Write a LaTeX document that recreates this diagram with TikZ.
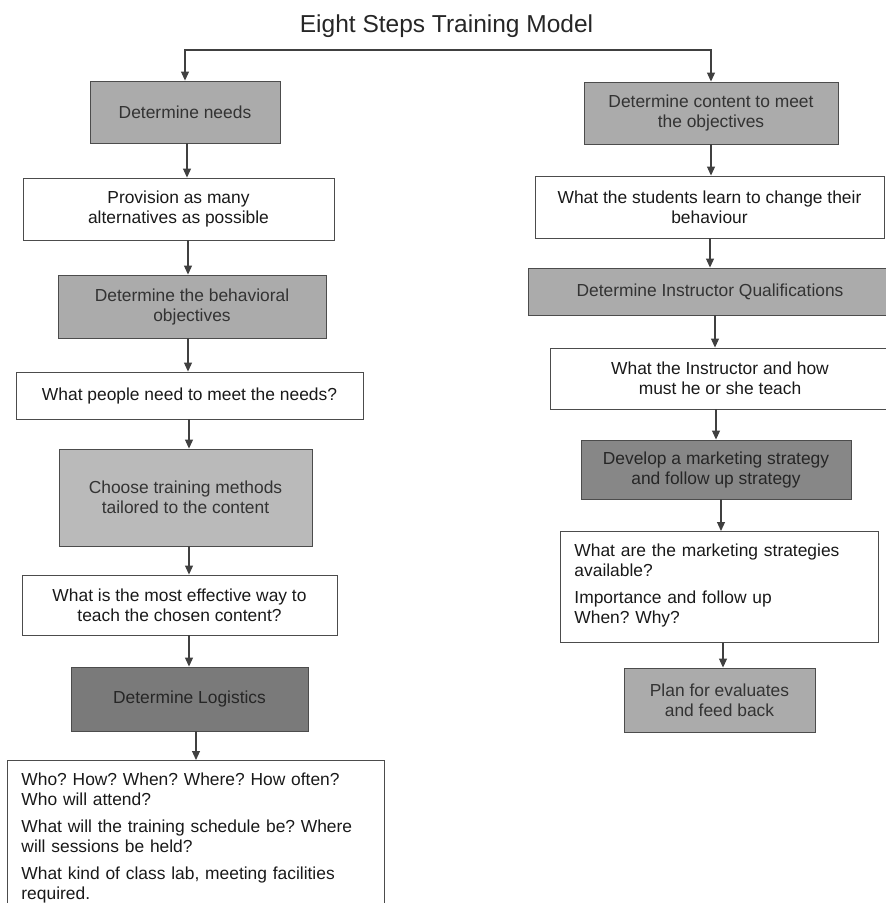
\documentclass[tikz,border=0pt]{standalone}
\usepackage{fontspec}
\setmainfont{Liberation Sans}
\frenchspacing
\usetikzlibrary{arrows.meta}
\begin{document}
\begin{tikzpicture}[x=1pt,y=-1pt,
        box/.style={draw=black!70, line width=0.9pt, align=center, inner sep=0pt,
            font=\fontsize{17.4}{20}\selectfont, text=black!90},
        shade/.style={box, fill=black!33, text=black!80},
        dark/.style={box, fill=black!52, text=black!85},
        notes/.style={box, anchor=north west, align=left, inner xsep=14pt, inner ysep=12pt},
        arr/.style={draw=black!75, line width=1.1pt, -{Triangle[length=9pt,width=8pt]}}]
        \useasboundingbox (0,0) rectangle (886,903);
        \node[anchor=base, font=\fontsize{24.5}{28}\selectfont, text=black!85] (title) at (446.5,32) {Eight Steps Training Model};
        % left column
        \node[shade, minimum width=190pt, minimum height=62pt] (needs) at (185,112) {Determine needs};
        \node[box, minimum width=311pt, minimum height=62pt] (prov) at (178.5,209) {Provision as many\\alternatives as possible};
        \node[shade, minimum width=268pt, minimum height=63pt] (behav) at (192,306.5) {Determine the behavioral\\objectives};
        \node[box, minimum width=347pt, minimum height=47pt] (people) at (189.5,395.5) {What people need to meet the needs?};
        \node[shade, fill=black!27, minimum width=253pt, minimum height=97pt] (choose) at (185.5,497.5) {Choose training methods\\tailored to the content};
        \node[box, minimum width=315pt, minimum height=60pt] (effect) at (179.5,605) {What is the most effective way to\\teach the chosen content?};
        \node[dark, minimum width=237pt, minimum height=64pt] (logist) at (189.5,699) {Determine Logistics};
        \node[notes, text width=349pt] (who) at (7,760) {Who? How? When? Where? How often?\\Who will attend?\\[7pt]What will the training schedule be? Where\\will sessions be held?\\[7pt]What kind of class lab, meeting facilities\\required.};
        % right column
        \node[shade, minimum width=254pt, minimum height=62pt] (content) at (711,113) {Determine content to meet\\the objectives};
        \node[box, minimum width=349pt, minimum height=62pt] (learn) at (709.5,207) {What the students learn to change their\\behaviour};
        \node[shade, minimum width=364pt, minimum height=47pt] (qual) at (710,291.5) {Determine Instructor Qualifications};
        \node[box, minimum width=340pt, minimum height=61pt] (instr) at (720,378.5) {What the Instructor and how\\must he or she teach};
        \node[dark, fill=black!47, minimum width=270pt, minimum height=59pt] (develop) at (716,469.5) {Develop a marketing strategy\\and follow up strategy};
        \node[notes, text width=290pt] (avail) at (560,531) {What are the marketing strategies\\available?\\[7pt]Importance and follow up\\When? Why?\rule[-7pt]{0pt}{7pt}};
        \node[shade, minimum width=191pt, minimum height=64pt] (plan) at (719.5,700) {Plan for evaluates\\and feed back};
        % connectors
        \coordinate (top) at (448,50);
        \draw[arr] (top) -| (needs);
        \draw[arr] (top) -| (content);
        \foreach \a/\b/\x in {needs/prov/187, prov/behav/188, behav/people/188, people/choose/189,
                choose/effect/189, effect/logist/189, logist/who/196,
                content/learn/711, learn/qual/710, qual/instr/715, instr/develop/716,
                develop/avail/721, avail/plan/723}{
            \path (\x,0) coordinate (ax);
            \draw[arr] (\a.south -| ax) -- (\b.north -| ax);
        }
\end{tikzpicture}
\end{document}
